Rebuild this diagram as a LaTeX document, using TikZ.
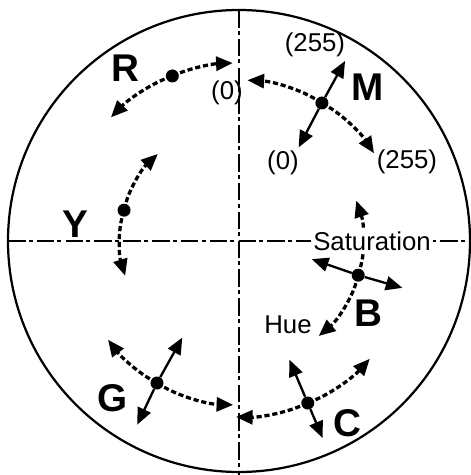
\documentclass[tikz,border=0pt]{standalone}
\usepackage{fontspec}
\setmainfont{Liberation Sans}
\usetikzlibrary{arrows.meta}

\begin{document}
\begin{tikzpicture}[
  x=0.03cm,y=0.03cm,
  >={Triangle[length=5mm,width=4.2mm]},
  rim/.style={line width=1.9pt},
  axis/.style={line width=1.2pt,dash pattern=on 15pt off 2.6pt on 3.4pt off 3.6pt},
  dot/.style={circle,fill=black,inner sep=0pt,minimum size=3.9mm},
  hue/.style={->,line width=2.8pt,dash pattern=on 4.4pt off 2.4pt,shorten <=2.5mm},
  sat/.style={->,line width=2pt},
  big/.style={font=\fontsize{33}{36}\selectfont\bfseries,inner sep=0pt},
  val/.style={font=\fontsize{22}{25}\selectfont,inner sep=1pt}
]
\useasboundingbox (-239,-234) rectangle (231,241);
\draw[rim] (0,0) circle[radius=231];
\draw[axis] (-231,0) -- (231,0);
\draw[axis] (0,231) -- (0,-234);

\node[dot] (R) at (112:178) {};
\node[dot] (M) at (59:161) {};
\node[dot] (Y) at (165:119) {};
\node[dot] (B) at (-16:124) {};
\node[dot] (G) at (240:164) {};
\node[dot] (C) at (293:176) {};

\foreach \c/\a/\r/\lo/\hi in {R/112/178/-20/24, M/59/161/-26/28, Y/165/119/-32/32,
                               B/-16/124/-34/35, G/240/164/-23/28, C/293/176/-24/25}{
  \draw[hue] (\c.center) arc[start angle=\a,delta angle=\lo,radius=\r];
  \draw[hue] (\c.center) arc[start angle=\a,delta angle=\hi,radius=\r];
}

\coordinate (Mout) at (59.5:209);
\coordinate (Min) at (57.5:111);
\coordinate (Bout) at (-16:170);
\coordinate (Bin) at (-14:75);
\coordinate (Gout) at (241:210);
\coordinate (Gin) at (239.6:112);
\coordinate (Cout) at (293:214);
\coordinate (Cin) at (293:129);
\foreach \c in {M,B,G,C}{
  \draw[sat] (\c) -- (\c out);
  \draw[sat] (\c) -- (\c in);
}

\node[big] (labR) at (-114,173) {R};
\node[big] (labM) at (129,154) {M};
\node[big] (labY) at (-164,17) {Y};
\node[big] (labB) at (129,-72) {B};
\node[big] (labG) at (-126,-157) {G};
\node[big] (labC) at (108,-182) {C};

\node[val] (hue0) at (-12,148) {(0)};
\node[val] (sat255) at (76,196) {(255)};
\node[val] (sat0) at (44,78) {(0)};
\node[val] (hue255) at (168,79) {(255)};
\node[val] (huelab) at (49,-84) {Hue};
\node[val,fill=white,inner xsep=2pt] (satlab) at (133,0) {Saturation};
\end{tikzpicture}
\end{document}
